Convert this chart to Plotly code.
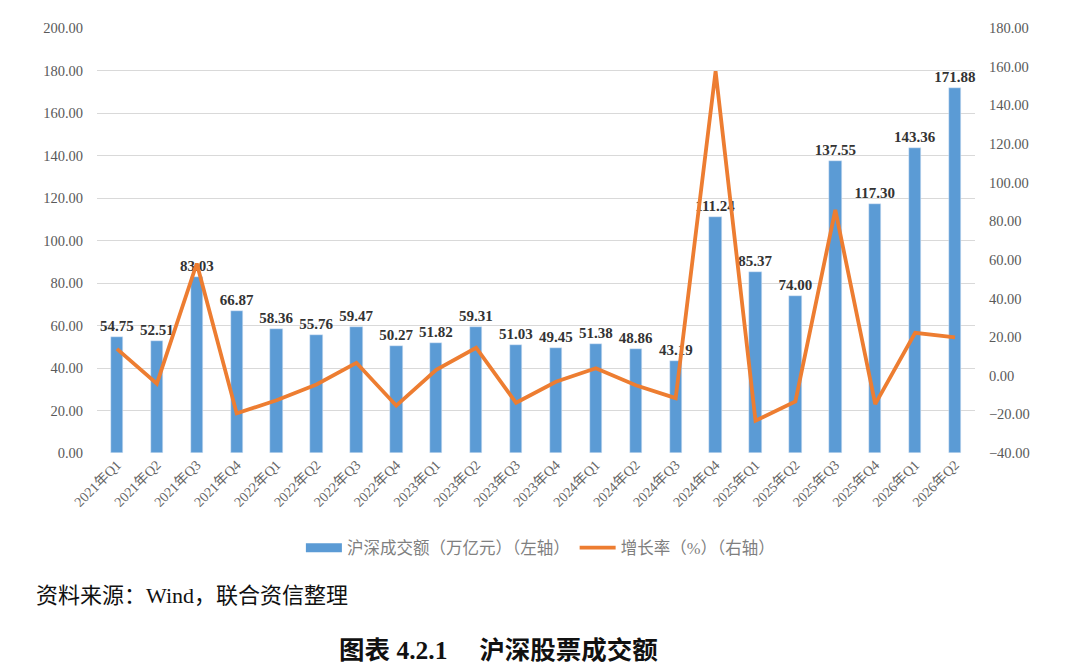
import plotly.graph_objects as go

# 沪深股票成交额 by quarter
quarters = ["2021年Q1", "2021年Q2", "2021年Q3", "2021年Q4",
            "2022年Q1", "2022年Q2", "2022年Q3", "2022年Q4",
            "2023年Q1", "2023年Q2", "2023年Q3", "2023年Q4",
            "2024年Q1", "2024年Q2", "2024年Q3", "2024年Q4",
            "2025年Q1", "2025年Q2", "2025年Q3", "2025年Q4",
            "2026年Q1", "2026年Q2"]
turnover = [54.75, 52.51, 83.03, 66.87, 58.36, 55.76, 59.47, 50.27,
            51.82, 59.31, 51.03, 49.45, 51.38, 48.86, 43.19, 111.24,
            85.37, 74.00, 137.55, 117.30, 143.36, 171.88]
# growth rate
growth = [13.9, -4.1, 58.1, -19.5, -12.7, -4.5, 6.7, -15.5,
          3.1, 14.5, -14.0, -3.1, 3.9, -4.9, -11.6, 157.6,
          -23.3, -13.3, 85.9, -14.7, 22.2, 19.9]

left_ticks = [0, 20, 40, 60, 80, 100, 120, 140, 160, 180, 200]
right_ticks = [-40, -20, 0, 20, 40, 60, 80, 100, 120, 140, 160, 180]

serif = "Times New Roman, Liberation Serif, Noto Sans CJK SC, serif"
gray = "#595959"
blue = "#5B9BD5"
orange = "#ED7D31"
bar_name = "沪深成交额（万亿元）（左轴）"

fig = go.Figure()
fig.add_trace(go.Bar(
    x=quarters, y=turnover, name=bar_name, showlegend=False,
    marker_color=blue, width=0.31,
    texttemplate="<b>%{y:.2f}</b>", textposition="outside",
    constraintext="none", cliponaxis=False,
    textfont=dict(family=serif, size=15, color="#333333"),
))
# legend proxy so the bar key is a wide rectangle like the original
fig.add_trace(go.Scatter(
    x=[quarters[0]], y=[None], name=bar_name, mode="lines",
    line=dict(color=blue, width=9), hoverinfo="skip",
))
fig.add_trace(go.Scatter(
    x=quarters, y=growth, name="增长率（%）（右轴）", yaxis="y2",
    mode="lines", line=dict(color=orange, width=3.8),
))

# page body adds an 8px offset, so the figure is a bit smaller than the window
fig.update_layout(
    width=1064, height=656,
    margin=dict(l=89, r=97, t=20, b=211),
    paper_bgcolor="white", plot_bgcolor="white",
    font=dict(family=serif, color=gray, size=13),
    xaxis=dict(tickangle=-45, showgrid=False, showline=False,
               tickfont=dict(family=serif, size=14, color="#666666"),
               range=[-0.5, 21.5]),
    yaxis=dict(range=[0, 200], tickvals=left_ticks, tickformat=".2f",
               showgrid=True, gridcolor="#d9d9d9", gridwidth=1.2,
               zeroline=False, showline=False,
               ticks="outside", ticklen=10, tickcolor="rgba(0,0,0,0)",
               tickfont=dict(family=serif, size=14.5, color=gray)),
    yaxis2=dict(range=[-40, 180], tickvals=right_ticks, tickformat=".2f",
                overlaying="y", side="right", showgrid=False,
                zeroline=False, showline=False,
                ticks="outside", ticklen=10, tickcolor="rgba(0,0,0,0)",
                tickfont=dict(family=serif, size=14.5, color=gray)),
    legend=dict(orientation="h", x=0.505, xanchor="center",
                y=-0.2235, yanchor="middle",
                font=dict(family=serif, size=16.5, color="#7f7f7f"),
                itemwidth=36, tracegroupgap=0),
    showlegend=True,
    bargap=0.0,
)

fig.add_annotation(text="资料来源：Wind，联合资信整理", xref="paper", yref="paper",
                   x=-0.072, y=-0.336, xanchor="left", yanchor="middle",
                   showarrow=False,
                   font=dict(family=serif, size=22, color="#111111"))
fig.add_annotation(text="<b>图表 4.2.1     沪深股票成交额</b>", xref="paper", yref="paper",
                   x=0.457, y=-0.464, xanchor="center", yanchor="middle",
                   showarrow=False,
                   font=dict(family=serif, size=25.5, color="#111111"))

fig.write_html("out.html")
